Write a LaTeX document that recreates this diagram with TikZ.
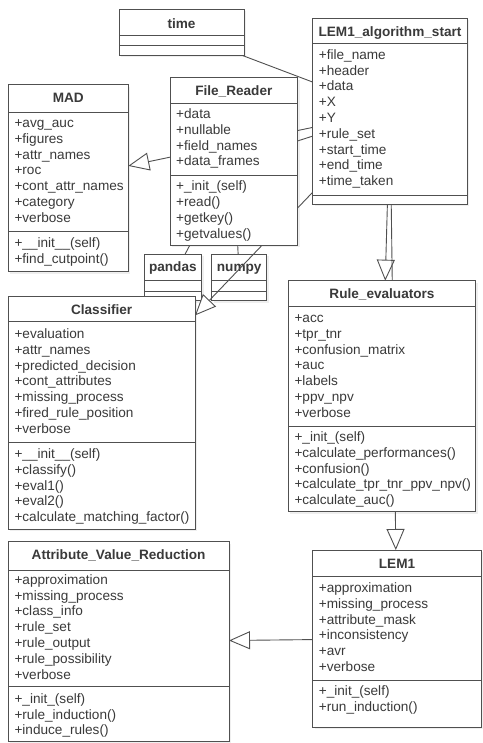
\documentclass[tikz,border=0pt]{standalone}
\usepackage{fontspec}
\setmainfont{Liberation Sans}
\usetikzlibrary{arrows.meta,shadows}
\definecolor{ink}{HTML}{3A3A3A}
\definecolor{edge}{HTML}{505050}
\pgfdeclarelayer{bg}
\pgfdeclarelayer{ln}
\pgfsetlayers{bg,ln,main}
\tikzset{
  cls/.style={draw=edge, line width=1pt, fill=white, inner sep=0pt, outer sep=0pt,
    drop shadow={opacity=0.12, shadow xshift=2pt, shadow yshift=-2pt}},
  sepline/.style={draw=edge, line width=1pt},
  ttl/.style={font=\fontsize{13.6}{15.8}\selectfont\bfseries, text=ink, inner sep=0pt},
  mem/.style={font=\fontsize{13.6}{15.8}\selectfont, text=ink, inner sep=0pt},
  conn/.style={draw=edge, line width=0.9pt},
  gen/.style={conn, -{Triangle[length=21pt, width=18pt, fill=white]}},
}
% #1 name, #2 left, #3 top, #4 right, #5 bottom, #6 title separator, #7 member separator
\newcommand\umlclass[7]{%
  \node[cls, anchor=north west, minimum width={(#4-#2)*1pt}, minimum height={(#5-#3)*1pt}] (#1) at (#2,#3) {};
  \draw[sepline] (#2,#6) -- (#4,#6);
  \draw[sepline] (#2,#7) -- (#4,#7);
}
% #1 name prefix, #2 x, #3 first baseline, #4 list
\newcommand\members[4]{%
  \foreach \mtext [count=\mi from 0] in {#4}{%
    \node[mem, anchor=base west] (#1\mi) at (#2,{#3+\mi*15.8}) {\mtext};
  }%
}
\begin{document}
\begin{tikzpicture}[x=1pt, y=-1pt]
\begin{pgfonlayer}{bg}
  \fill[white] (0,0) rectangle (482,743);
  \umlclass{pandas}{144}{254.3}{201.7}{300.7}{280.7}{291}
  \node[ttl, anchor=base] (pandas-t) at (172.85,271.5) {pandas};
  \umlclass{numpy}{211.7}{254.3}{266.7}{300.7}{280.7}{291}
  \node[ttl, anchor=base] (numpy-t) at (239.2,271.5) {numpy};
\end{pgfonlayer}
\useasboundingbox (0,0) rectangle (482,743);

% time
\umlclass{time}{119}{9.3}{244}{55.5}{35.7}{46}
\node[ttl, anchor=base] (time-t) at (181.5,28.1) {time};

% LEM1_algorithm_start
\umlclass{lemstart}{312.7}{18.3}{467.3}{204.3}{43.3}{195.7}
\node[ttl, anchor=base] (lemstart-t) at (390,36.5) {LEM1\_algorithm\_start};
\members{lemstart-a}{318.7}{59.3}{+file\_name,+header,+data,+X,+Y,+rule\_set,+start\_time,+end\_time,+time\_taken}

% File_Reader
\umlclass{filereader}{170}{77.7}{297.7}{245}{103.3}{175.7}
\node[ttl, anchor=base] (filereader-t) at (233.85,95.8) {File\_Reader};
\members{filereader-a}{176}{118.5}{+data,+nullable,+field\_names,+data\_frames}
\members{filereader-m}{176}{190.9}{+\_init\_(self),+read(),+getkey(),+getvalues()}

% MAD
\umlclass{mad}{8.3}{85}{128.3}{271.7}{112.3}{231.7}
\node[ttl, anchor=base] (mad-t) at (68.3,102.8) {MAD};
\members{mad-a}{14.3}{127.5}{+avg\_auc,+figures,+attr\_names,+roc,+cont\_attr\_names,+category,+verbose}
\members{mad-m}{14.3}{247.5}{+\_\_init\_\_(self),+find\_cutpoint()}

% Classifier
\umlclass{classifier}{8.3}{296.7}{195}{529.3}{321.7}{442.3}
\node[ttl, anchor=base] (classifier-t) at (101.65,314.8) {Classifier};
\members{classifier-a}{14.3}{338.5}{+evaluation,+attr\_names,+predicted\_decision,+cont\_attributes,+missing\_process,+fired\_rule\_position,+verbose}
\members{classifier-m}{14.3}{458.5}{+\_\_init\_\_(self),+classify(),+eval1(),+eval2(),+calculate\_matching\_factor()}

% Rule_evaluators
\umlclass{ruleeval}{288.3}{280.7}{475.7}{511.7}{306.7}{426.7}
\node[ttl, anchor=base] (ruleeval-t) at (382,298.1) {Rule\_evaluators};
\members{ruleeval-a}{294.3}{322.5}{+acc,+tpr\_tnr,+confusion\_matrix,+auc,+labels,+ppv\_npv,+verbose}
\members{ruleeval-m}{294.3}{441.5}{+\_init\_(self),+calculate\_performances(),+confusion(),+calculate\_tpr\_tnr\_ppv\_npv(),+calculate\_auc()}

% Attribute_Value_Reduction
\umlclass{avr}{8.3}{541.7}{229}{741.7}{570}{686.7}
\node[ttl, anchor=base] (avr-t) at (118.65,559.8) {Attribute\_Value\_Reduction};
\members{avr-a}{14.3}{584.2}{+approximation,+missing\_process,+class\_info,+rule\_set,+rule\_output,+rule\_possibility,+verbose}
\members{avr-m}{14.3}{703.2}{+\_init\_(self),+rule\_induction(),+induce\_rules()}

% LEM1
\umlclass{lemone}{312.7}{550}{481.3}{727.3}{576.7}{680}
\node[ttl, anchor=base] (lemone-t) at (397,568.1) {LEM1};
\members{lemone-a}{318.7}{592.5}{+approximation,+missing\_process,+attribute\_mask,+inconsistency,+avr,+verbose}
\members{lemone-m}{318.7}{695.2}{+\_init\_(self),+run\_induction()}

% connectors
\begin{pgfonlayer}{ln}
  \draw[conn] (time) -- (lemstart);
  \draw[conn] (lemstart) -- (filereader);
  \draw[gen] (lemstart) -- (mad);
  \draw[gen] (lemstart) -- (classifier);
  \draw[conn] (filereader) -- (pandas);
  \draw[conn] (filereader) -- (numpy);
  \draw[gen] (lemstart) -- (ruleeval);
  \draw[gen] (lemstart) -- (lemone);
  \draw[gen] (lemone) -- (avr);
\end{pgfonlayer}
\end{tikzpicture}
\end{document}
